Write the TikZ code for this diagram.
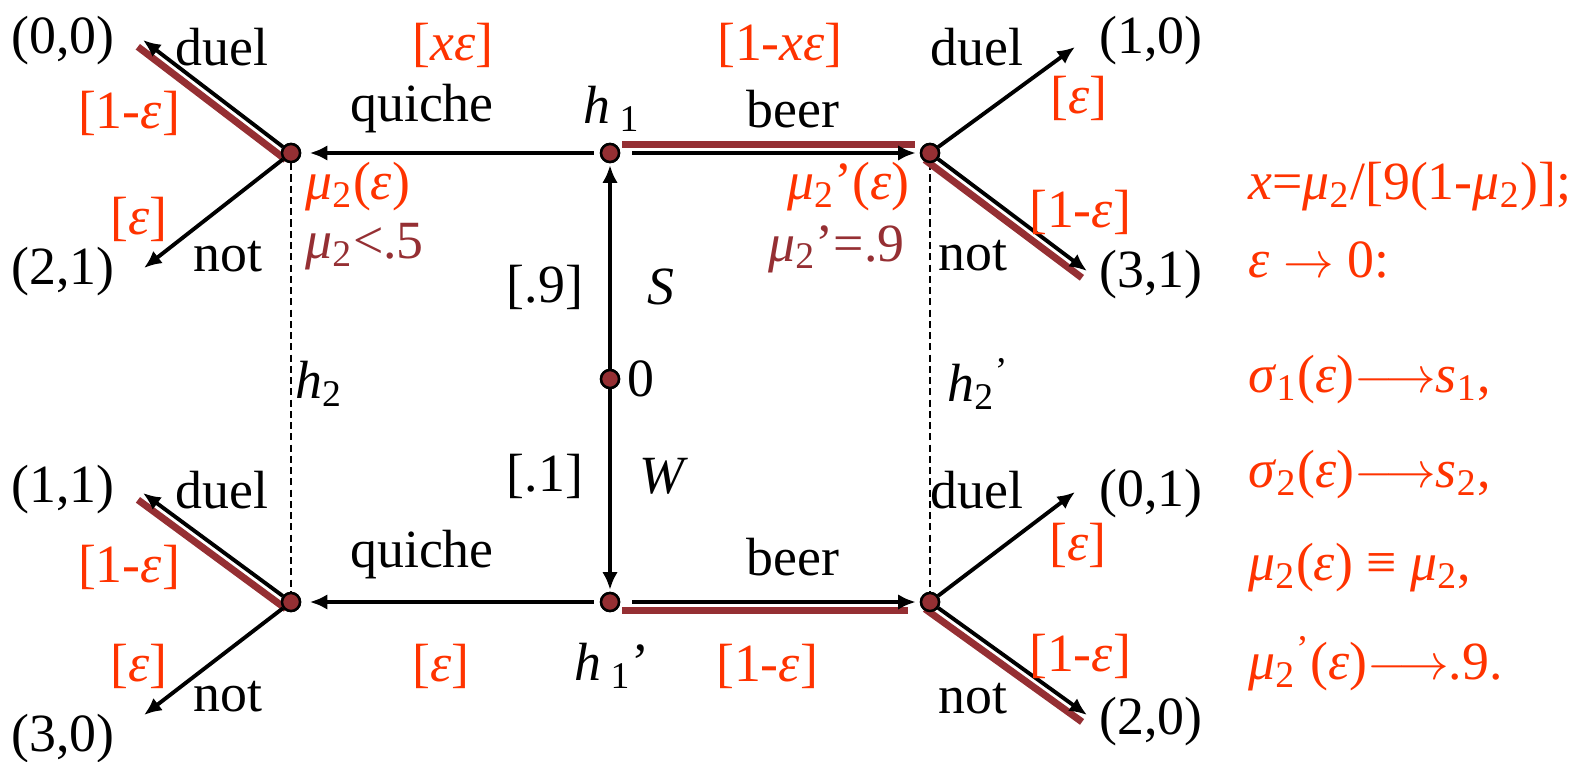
\documentclass[tikz,border=0pt]{standalone}
\usepackage{fontspec}
\setmainfont{Liberation Serif}
\usetikzlibrary{arrows.meta,calc}
\definecolor{pr}{HTML}{FF3300}
\definecolor{eqc}{HTML}{952F33}
\newcommand{\lo}[1]{\textsubscript{#1}}
\tikzset{
  dot/.style={circle,draw=black,fill=eqc,line width=0.7pt,inner sep=0pt,minimum size=0.18cm},
  mv/.style={-{Latex[length=5pt,width=4.4pt]},line width=1.1pt},
  eqline/.style={draw=eqc,line width=2pt},
  info/.style={dash pattern=on 2pt off 1.2pt,line width=0.55pt},
  prob/.style={text=pr},
  blf/.style={text=eqc},
  pay/.style={inner sep=0pt}
}
\begin{document}
\begin{tikzpicture}[x=0.01cm,y=-0.01cm,font=\fontsize{15.3}{17}\selectfont]
\useasboundingbox (0,0) rectangle (1583,761);
% nodes of the tree
\node[dot] (h1) at (610,153) {};
\node[dot] (h1p) at (610,602) {};
\node[dot] (c0) at (610,379) {};
\node[dot] (ul) at (291,153) {};
\node[dot] (ur) at (930,153) {};
\node[dot] (ll) at (291,602) {};
\node[dot] (lr) at (930,602) {};
% arrow ends next to the payoffs
\coordinate (tul1) at (143,40);
\coordinate (tul2) at (144,268);
\coordinate (tur1) at (1075,47);
\coordinate (tur2) at (1087,271);
\coordinate (tll1) at (143,493);
\coordinate (tll2) at (144,715);
\coordinate (tlr1) at (1075,492);
\coordinate (tlr2) at (1087,715);
% payoffs
\node[pay] (p00) at (63,41) {(0,0)};
\node[pay] (p21) at (63,272) {(2,1)};
\node[pay] (p11) at (63,490) {(1,1)};
\node[pay] (p30) at (63,739) {(3,0)};
\node[pay] (p10) at (1151,41) {(1,0)};
\node[pay] (p31) at (1151,275) {(3,1)};
\node[pay] (p01) at (1151,494) {(0,1)};
\node[pay] (p20) at (1151,722) {(2,0)};

% information sets
\draw[info] (ul) -- (ll);
\draw[info] (ur) -- (lr);

% equilibrium path
\draw[eqline] ($(ul)!0.085cm!90:(tul1)$) -- ($(tul1)!0.085cm!-90:(ul)$);
\draw[eqline] ($(ll)!0.085cm!90:(tll1)$) -- ($(tll1)!0.085cm!-90:(ll)$);
\draw[eqline] ($(ur)!0.085cm!-90:(tur2)$) -- ($(tur2)!0.085cm!90:(ur)$);
\draw[eqline] ($(lr)!0.085cm!-90:(tlr2)$) -- ($(tlr2)!0.085cm!90:(lr)$);
\draw[eqline,shorten <=0.12cm,shorten >=0.15cm] ($(h1)!0.085cm!90:(ur)$) -- ($(ur)!0.085cm!-90:(h1)$);
\draw[eqline,shorten <=0.12cm,shorten >=0.22cm] ($(h1p)!0.085cm!-90:(lr)$) -- ($(lr)!0.085cm!90:(h1p)$);

% moves
\draw[mv,shorten >=0.02cm] (c0) -- (h1);
\draw[mv,shorten >=0.02cm] (c0) -- (h1p);
\draw[mv,shorten <=0.06cm,shorten >=0.085cm] (h1) -- (ul);
\draw[mv,shorten <=0.06cm,shorten >=0.085cm] (h1p) -- (ll);
\draw[mv,shorten <=0.12cm,shorten >=0.04cm] (h1) -- (ur);
\draw[mv,shorten <=0.12cm,shorten >=0.04cm] (h1p) -- (lr);
\foreach \n/\t in {ul/tul1,ul/tul2,ll/tll1,ll/tll2,ur/tur1,ur/tur2,lr/tlr1,lr/tlr2}
  \draw[mv] (\n) -- (\t);

% redraw nodes above the lines
\foreach \n in {h1,h1p,c0,ul,ur,ll,lr}
  \node[dot] at (\n) {};

% labels
\node (d1) at (222,47) {duel};
\node (n1) at (228,257) {not};
\node (d2) at (222,490) {duel};
\node (n2) at (228,697) {not};
\node (d3) at (977,47) {duel};
\node (n3) at (973,256) {not};
\node (d4) at (977,490) {duel};
\node (n4) at (973,699) {not};
\node (q1) at (422,109) {quiche};
\node (q2) at (422,555) {quiche};
\node (b1) at (793,109) {beer};
\node (b2) at (793,557) {beer};
\node (lh1) at (612,109) {\textit{h}\,\lo{1}};
\node (lh1p) at (612,666) {\textit{h}\,\lo{1}’};
\node (lh2) at (319,384) {\textit{h}\lo{2}};
\node[anchor=west] (lh2p) at (935,384) {\textit{h}\lo{2}\textsuperscript{’}};
\node (l0) at (641,379) {0};
\node (lS) at (661,287) {\textit{S}};
\node (lW) at (664,476) {\textit{W}};
\node (p9) at (545,287) {[.9]};
\node (p1) at (545,476) {[.1]};

% probabilities
\node[prob] (pa) at (129,113) {[1-\textit{ε}]};
\node[prob] (pb) at (139,219) {[\textit{ε}]};
\node[prob] (pc) at (129,567) {[1-\textit{ε}]};
\node[prob] (pd) at (139,666) {[\textit{ε}]};
\node[prob] (pe) at (453,45) {[\textit{xε}]};
\node[prob] (pf) at (780,45) {[1-\textit{xε}]};
\node[prob] (pg) at (441,666) {[\textit{ε}]};
\node[prob] (ph) at (767,666) {[1-\textit{ε}]};
\node[prob] (pi) at (1079,98) {[\textit{ε}]};
\node[prob] (pj) at (1080,212) {[1-\textit{ε}]};
\node[prob] (pk) at (1078,545) {[\textit{ε}]};
\node[prob] (pl) at (1080,656) {[1-\textit{ε}]};

% beliefs
\node[prob,anchor=west] (m1) at (293,187) {\textit{μ}\lo{2}(\textit{ε})};
\node[blf,anchor=west] (m2) at (293,247) {\textit{μ}\lo{2}<.5};
\node[prob,anchor=east] (m3) at (922,187) {\textit{μ}\lo{2}’(\textit{ε})};
\node[blf,anchor=east] (m4) at (917,249) {\textit{μ}\lo{2}’=.9};

% limit
\node[prob,anchor=west] (r1) at (1236,187) {\textit{x}=\textit{μ}\lo{2}/[9(1-\textit{μ}\lo{2})];};
\node[prob,anchor=west] (r2) at (1236,260) {\textit{ε} $\rightarrow$ 0:};
\node[prob,anchor=west] (r3) at (1236,380) {\textit{σ}\lo{1}(\textit{ε})$\longrightarrow$\textit{s}\lo{1},};
\node[prob,anchor=west] (r4) at (1236,475) {\textit{σ}\lo{2}(\textit{ε})$\longrightarrow$\textit{s}\lo{2},};
\node[prob,anchor=west] (r5) at (1236,568) {\textit{μ}\lo{2}(\textit{ε}) ≡ \textit{μ}\lo{2},};
\node[prob,anchor=west] (r6) at (1236,664) {\textit{μ}\lo{2}\textsuperscript{’}(\textit{ε})$\longrightarrow$.9.};
\end{tikzpicture}
\end{document}
